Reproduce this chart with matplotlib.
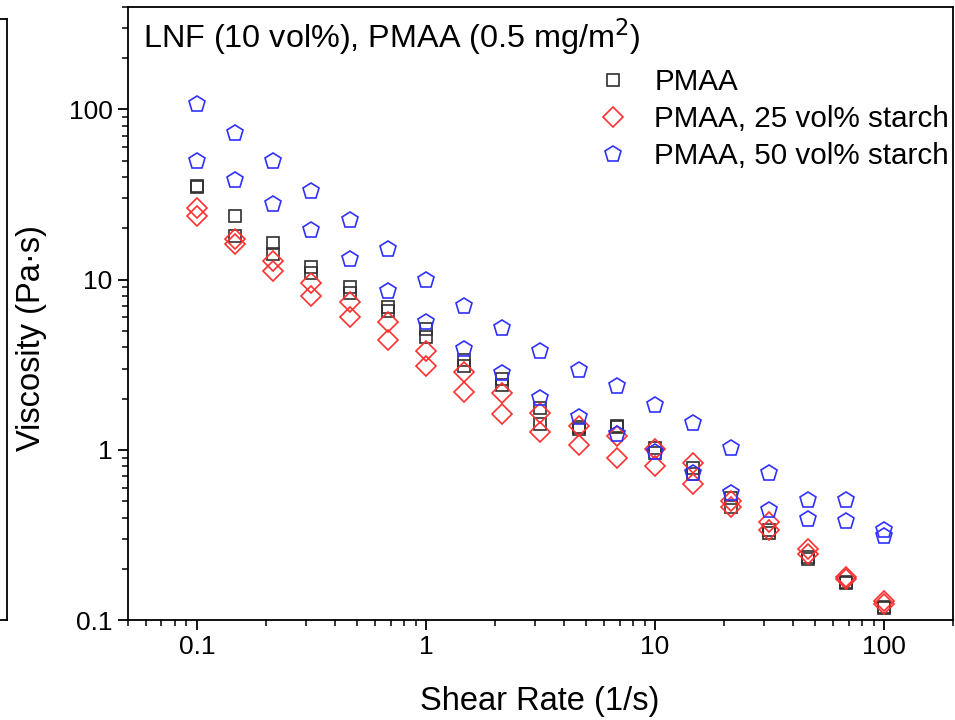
import numpy as np
import matplotlib
matplotlib.use("Agg")
import matplotlib.pyplot as plt
from matplotlib.ticker import LogLocator, FixedLocator, FixedFormatter, NullFormatter

plt.rcParams['font.family'] = ['Liberation Sans', 'DejaVu Sans']

# shear rates (1/s), 5 points per decade
shear = [0.1, 0.147, 0.215, 0.316, 0.464, 0.681, 1.0, 1.47, 2.15, 3.16,
         4.64, 6.81, 10.0, 14.7, 21.5, 31.6, 46.4, 68.1, 100.0]

# PMAA (two runs)
pmaa_a = [35.5, 23.8, 16.5, 11.8, 9.0, 6.9, 5.1, 3.35, 2.6, 1.77,
          1.36, 1.38, 1.03, 0.78, 0.52, 0.34, 0.235, 0.168, 0.12]
pmaa_b = [35.0, 18.1, 14.2, 11.0, 8.3, 6.5, 4.6, 3.1, 2.42, 1.42,
          1.33, 1.36, 0.96, 0.72, 0.46, 0.325, 0.228, 0.165, 0.117]

# PMAA, 25 vol% starch (two runs)
s25_a = [26.2, 17.4, 12.9, 9.6, 7.4, 5.6, 3.82, 2.88, 2.17, 1.65,
         1.38, 1.21, 1.01, 0.84, 0.5, 0.375, 0.26, 0.179, 0.129]
s25_b = [23.8, 16.1, 11.3, 8.05, 6.0, 4.4, 3.12, 2.19, 1.63, 1.28,
         1.07, 0.90, 0.805, 0.63, 0.46, 0.34, 0.245, 0.174, 0.125]

# PMAA, 50 vol% starch (two runs)
s50_a = [108, 73, 49.5, 33.4, 22.5, 15.2, 10.0, 7.0, 5.2, 3.82,
         2.95, 2.38, 1.84, 1.44, 1.03, 0.73, 0.51, 0.51, 0.34]
s50_b = [50, 38.7, 28, 19.7, 13.3, 8.6, 5.66, 3.93, 2.84, 2.02,
         1.56, 1.24, 0.97, 0.73, 0.56, 0.44, 0.39, 0.38, 0.31]

labels = ['PMAA', 'PMAA, 25 vol% starch', 'PMAA, 50 vol% starch']
colors = ['#303030', '#ff3030', '#3030ff']

W, H = 955, 720
fig = plt.figure(figsize=(W / 100, H / 100), dpi=100)

# edge of neighbouring panel on the left
axl = fig.add_axes([-0.3, 1 - 620 / H, 0.3 + 7 / W, (620 - 19) / H])
axl.set_xticks([])
axl.set_yticks([])
axl.patch.set_visible(False)
axl.spines['left'].set_visible(False)
for s in axl.spines.values():
    s.set_linewidth(1.3)

# main axes in pixel terms: left 128, right 953, top 7, bottom 620
ax = fig.add_axes([128 / W, 1 - 620 / H, (953 - 128) / W, (620 - 7) / H])

ms = dict(linestyle='none', markerfacecolor='none', markeredgewidth=1.2)
ax.plot(shear, pmaa_a, marker='s', markersize=9, color=colors[0], label=labels[0], **ms)
ax.plot(shear, pmaa_b, marker='s', markersize=9, color=colors[0], **ms)
ax.plot(shear, s25_a, marker='D', markersize=10, color=colors[1], label=labels[1], **ms)
ax.plot(shear, s25_b, marker='D', markersize=10, color=colors[1], **ms)
ax.plot(shear, s50_a, marker='p', markersize=12, color=colors[2], label=labels[2], **ms)
ax.plot(shear, s50_b, marker='p', markersize=12, color=colors[2], **ms)

ax.set_xscale('log')
ax.set_yscale('log')
ax.set_xlim(0.05, 200)
ax.set_ylim(0.1, 400)

xt = [0.1, 1, 10, 100]
yt = [0.1, 1, 10, 100]
ax.xaxis.set_major_locator(FixedLocator(xt))
ax.xaxis.set_major_formatter(FixedFormatter(['0.1', '1', '10', '100']))
ax.yaxis.set_major_locator(FixedLocator(yt))
ax.yaxis.set_major_formatter(FixedFormatter(['0.1', '1', '10', '100']))
ax.xaxis.set_minor_locator(LogLocator(base=10, subs=np.arange(2, 10), numticks=20))
ax.yaxis.set_minor_locator(LogLocator(base=10, subs=np.arange(2, 10), numticks=20))
ax.xaxis.set_minor_formatter(NullFormatter())
ax.yaxis.set_minor_formatter(NullFormatter())

ax.tick_params(which='major', direction='out', length=7, width=1.3, labelsize=19, pad=4)
ax.tick_params(which='minor', direction='out', length=4, width=1.1)
for s in ax.spines.values():
    s.set_linewidth(1.3)

ax.set_xlabel('Shear Rate (1/s)', fontsize=23.5)
ax.set_ylabel('Viscosity (Pa·s)', fontsize=23.5)
ax.xaxis.set_label_coords(0.499, -0.107)
ax.yaxis.set_label_coords(-0.098, 0.46)

ax.text(0.018, 0.95, 'LNF (10 vol%), PMAA (0.5 mg/m$^2$)', transform=ax.transAxes,
        fontsize=23.3, va='center', ha='left')

leg = ax.legend(loc='upper right', bbox_to_anchor=(1.0097, 0.92), frameon=False,
                fontsize=21.3, handlelength=0.8, handletextpad=1.0,
                labelspacing=0.31, borderaxespad=0.0)

fig.savefig('out.png', dpi=100)
